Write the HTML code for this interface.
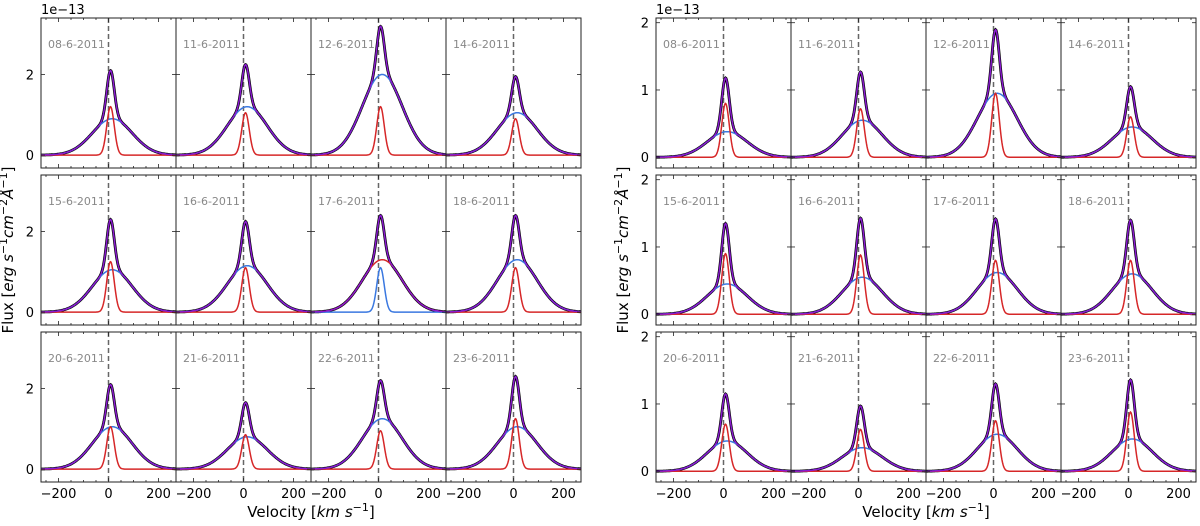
<!DOCTYPE html>
<html><head><meta charset="utf-8">
<style>
html,body{margin:0;padding:0;background:#fff;}
svg{display:block;font-family:"DejaVu Sans","Liberation Sans",sans-serif;}
</style></head>
<body>
<svg id="chart" width="1200" height="526" viewBox="0 0 1200 526" xmlns="http://www.w3.org/2000/svg"></svg>
<script>
const dates = ["08-6-2011","11-6-2011","12-6-2011","14-6-2011","15-6-2011","16-6-2011","17-6-2011","18-6-2011","20-6-2011","21-6-2011","22-6-2011","23-6-2011"];
const leftNarrow = [1.2,1.05,1.2,0.9,1.25,1.1,1.1,1.1,1.05,0.85,0.95,1.25];
const leftBroad = [0.9,1.2,2.0,1.05,1.05,1.15,1.3,1.3,1.05,0.8,1.25,1.05];
const leftSwap = [0,0,0,0,0,0,1,0,0,0,0,0];
const rightNarrow = [0.8,0.72,0.95,0.6,0.9,0.88,0.8,0.8,0.7,0.62,0.75,0.88];
const rightBroad = [0.38,0.55,0.95,0.45,0.45,0.55,0.62,0.6,0.45,0.35,0.55,0.48];
const xTicks = [-200,0,200];
const leftYTicks = [0,2];
const rightYTicks = [0,1,2];

const NS="http://www.w3.org/2000/svg";
const svg=document.getElementById('chart');
function mk(tag,attrs,parent){const e=document.createElementNS(NS,tag);for(const k in attrs)e.setAttribute(k,attrs[k]);(parent||svg).appendChild(e);return e;}
const rowsTop=[18,175,332], ph=150, pw=135;
function g(v,c,s){return Math.exp(-0.5*((v-c)/s)**2);}

function figure(x0,ymax,ymin,narrow,broad,swap,yTicks,prefix){
  const fig=mk('g',{});
  
  
  for(let i=0;i<12;i++){
    const r=Math.floor(i/4),c=i%4;
    const px=x0+c*pw, py=rowsTop[r];
    const sx=v=>px+(v+270)/540*pw;
    const sy=y=>py+(ymax-y)/(ymax-ymin)*ph;
    const pg=mk('g',{},fig);
    
    
    mk('rect',{x:px,y:py,width:pw,height:ph,fill:'#fff'},pg);
    const dl=mk('line',{x1:sx(0),x2:sx(0),y1:py,y2:py+ph,stroke:'#666','stroke-width':1.5,'stroke-dasharray':'5,3'},pg);
    
    
    const na=narrow[i], ba=broad[i];
    const nFn=v=>na*g(v,8,15);
    const bFn=v=>ba*g(v,15,80);
    let pN='',pB='',pT='';
    for(let v=-270;v<=270;v+=2){
      const n=nFn(v), b=bFn(v);
      pN+=(v==-270?'M':'L')+sx(v).toFixed(1)+','+sy(n).toFixed(1);
      pB+=(v==-270?'M':'L')+sx(v).toFixed(1)+','+sy(b).toFixed(1);
      pT+=(v==-270?'M':'L')+sx(v).toFixed(1)+','+sy(n+b).toFixed(1);
    }
    const obs=mk('path',{d:pT,fill:'none',stroke:'#000','stroke-width':2.8},pg);
    
    
    const bc=swap[i]?'#d62728':'#3a78e0', nc=swap[i]?'#3a78e0':'#d62728';
    const bl=mk('path',{d:pB,fill:'none',stroke:bc,'stroke-width':1.5},pg);
    
    
    const nl=mk('path',{d:pN,fill:'none',stroke:nc,'stroke-width':1.5},pg);
    
    
    const tl=mk('path',{d:pT,fill:'none',stroke:'#8a1ad0','stroke-width':1.5},pg);
    
    
    const lab=mk('text',{x:px+7,y:py+30,fill:'#888','font-size':11},pg);
    lab.textContent=dates[i];
    
    
    for(let v=-250;v<=250;v+=50){
      const major=xTicks.includes(v), L=major?4:2;
      mk('line',{x1:sx(v),x2:sx(v),y1:py+ph,y2:py+ph-L,stroke:'#222','stroke-width':0.8},pg);
      mk('line',{x1:sx(v),x2:sx(v),y1:py,y2:py+L,stroke:'#222','stroke-width':0.8},pg);
    }
    for(const t of yTicks){
      mk('line',{x1:px,x2:px+4,y1:sy(t),y2:sy(t),stroke:'#222','stroke-width':0.8},pg);
      mk('line',{x1:px+pw,x2:px+pw-4,y1:sy(t),y2:sy(t),stroke:'#222','stroke-width':0.8},pg);
    }
    mk('rect',{x:px,y:py,width:pw,height:ph,fill:'none',stroke:'#222','stroke-width':1},pg);
    if(c==0){
      for(const t of yTicks){
        const tt=mk('text',{x:px-7,y:sy(t)+5,'text-anchor':'end','font-size':13,fill:'#000'},pg);
        tt.textContent=t;
        
        
      }
    }
    if(r==2){
      for(const t of xTicks){
        const tt=mk('text',{x:sx(t),y:py+ph+16,'text-anchor':'middle','font-size':13,fill:'#000'},pg);
        tt.textContent=(t<0?'\u2212'+(-t):t);
        
        
      }
    }
  }
  const off=mk('text',{x:x0,y:14,'font-size':13,fill:'#000'},fig);
  off.textContent='1e\u221213';
  
  
  const xt=mk('text',{x:x0+2*pw,y:517,'text-anchor':'middle','font-size':15,fill:'#000'},fig);
  xt.innerHTML='Velocity [<tspan font-style="italic">km s</tspan><tspan dy="-6" font-size="11">\u22121</tspan><tspan dy="6">]</tspan>';
  
  
  const yx=x0-28, yy=250;
  const yt=mk('text',{x:yx,y:yy,'text-anchor':'middle','font-size':15,fill:'#000',transform:`rotate(-90 ${yx} ${yy})`},fig);
  yt.innerHTML='Flux [<tspan font-style="italic">erg s</tspan><tspan dy="-6" font-size="11">\u22121</tspan><tspan dy="6" font-style="italic">cm</tspan><tspan dy="-6" font-size="11">\u22122</tspan><tspan dy="6" font-style="italic">\u00c5</tspan><tspan dy="-6" font-size="11">\u22121</tspan><tspan dy="6">]</tspan>';
  
  
}
figure(41,3.4,-0.32,leftNarrow,leftBroad,leftSwap,leftYTicks,'left');
figure(656,2.07,-0.16,rightNarrow,rightBroad,[0,0,0,0,0,0,0,0,0,0,0,0],rightYTicks,'right');
</script>
</body></html>
